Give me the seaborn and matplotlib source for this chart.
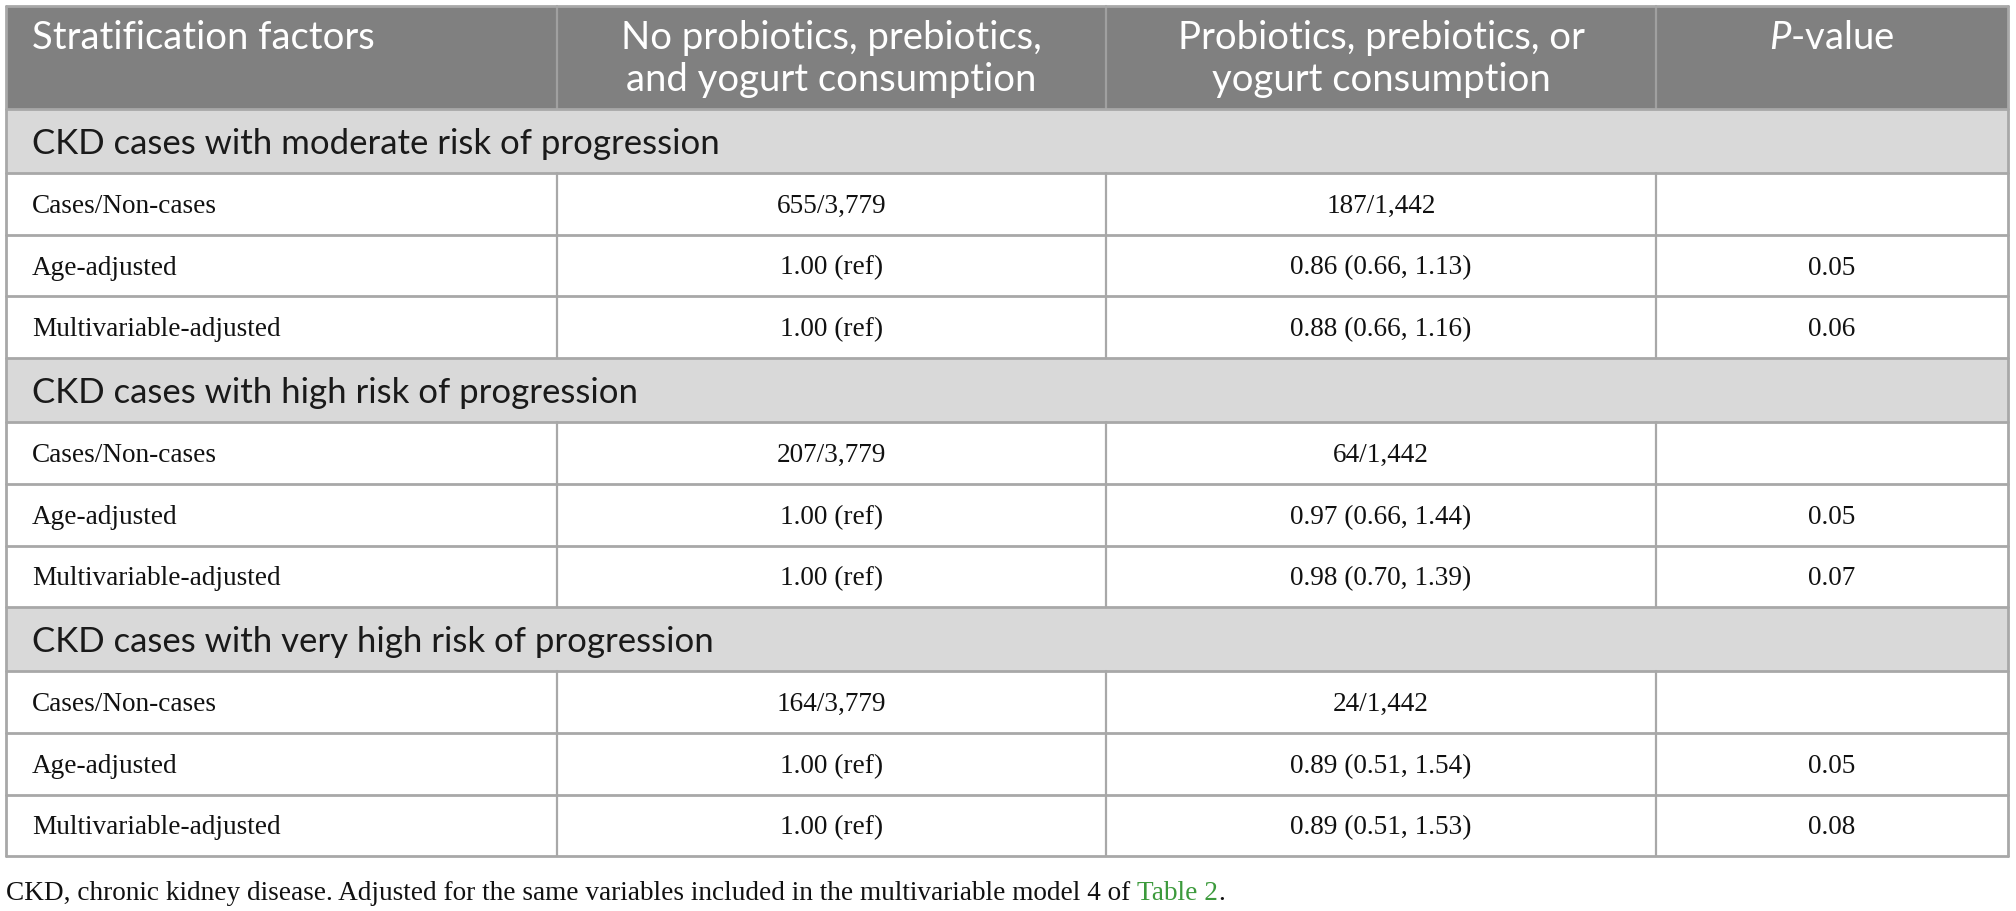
import matplotlib
matplotlib.use("Agg")
import matplotlib.pyplot as plt
import seaborn as sns
from matplotlib.patches import Rectangle

# ---------------- data ----------------
col_headers = ["Stratification factors",
               "No probiotics, prebiotics,\nand yogurt consumption",
               "Probiotics, prebiotics, or\nyogurt consumption",
               "P-value"]
sections = ["CKD cases with moderate risk of progression",
            "CKD cases with high risk of progression",
            "CKD cases with very high risk of progression"]
row_labels = ["Cases/Non-cases", "Age-adjusted", "Multivariable-adjusted"]
no_consumption = [["655/3,779", "1.00 (ref)", "1.00 (ref)"],
                  ["207/3,779", "1.00 (ref)", "1.00 (ref)"],
                  ["164/3,779", "1.00 (ref)", "1.00 (ref)"]]
consumption = [["187/1,442", "0.86 (0.66, 1.13)", "0.88 (0.66, 1.16)"],
               ["64/1,442", "0.97 (0.66, 1.44)", "0.98 (0.70, 1.39)"],
               ["24/1,442", "0.89 (0.51, 1.54)", "0.89 (0.51, 1.53)"]]
p_values = [["", "0.05", "0.06"],
            ["", "0.05", "0.07"],
            ["", "0.05", "0.08"]]
footnote = "CKD, chronic kidney disease. Adjusted for the same variables included in the multivariable model 4 of "
footnote_link = "Table 2"

# ---------------- style ----------------
sns.set_theme(style="white")
plt.rcParams['font.family'] = ['Lato', 'DejaVu Sans']
plt.rcParams['mathtext.fontset'] = 'custom'
plt.rcParams['mathtext.it'] = 'Lato:italic'
plt.rcParams['mathtext.rm'] = 'Lato'

W, H = 2016, 911
fig = plt.figure(figsize=(W / 100, H / 100), dpi=100)
ax = fig.add_axes([0, 0, 1, 1])
ax.set_xlim(0, W)
ax.set_ylim(H, 0)
ax.axis("off")

col_edges = [6, 557, 1106, 1656, 2008]
top = 6
header_h = 103
section_h = 64
row_h = 61.7
header_bg = "#808080"
section_bg = "#d9d9d9"
line_c = "#a8a8a8"
serif = ['Liberation Serif', 'DejaVu Serif']
head_size = 27.5
sec_size = 25
serif_size = 19.6
pad = 26
dy = 2.5

# header
ax.add_patch(Rectangle((col_edges[0], top), col_edges[-1] - col_edges[0], header_h,
                       facecolor=header_bg, edgecolor="none", zorder=1))
for i, htxt in enumerate(col_headers):
    x0, x1 = col_edges[i], col_edges[i + 1]
    if i == 0:
        ax.text(x0 + pad, top + 32, htxt, color="white", fontsize=head_size,
                ha="left", va="center", zorder=3)
    elif htxt.startswith("P-"):
        ax.text((x0 + x1) / 2, top + 32, r"$\mathit{P}$" + htxt[1:], color="white",
                fontsize=head_size, ha="center", va="center", zorder=3)
    else:
        lines = htxt.split("\n")
        for k, ln in enumerate(lines):
            ax.text((x0 + x1) / 2, top + 32 + k * 42, ln, color="white",
                    fontsize=head_size, ha="center", va="center", zorder=3)
for xe in col_edges[1:-1]:
    ax.plot([xe, xe], [top, top + header_h], color="#a0a0a0", lw=1.6, zorder=2)

y = top + header_h
hlines = [top, y]
vsegs = []
for s, sec in enumerate(sections):
    ax.add_patch(Rectangle((col_edges[0], y), col_edges[-1] - col_edges[0], section_h,
                           facecolor=section_bg, edgecolor="none", zorder=1))
    ax.text(col_edges[0] + pad, y + section_h / 2 + dy, sec, color="#1a1a1a",
            fontsize=sec_size, ha="left", va="center", zorder=3)
    y += section_h
    hlines.append(y)
    for r, lab in enumerate(row_labels):
        yc = y + row_h / 2 + dy
        vals = [lab, no_consumption[s][r], consumption[s][r], p_values[s][r]]
        for c, v in enumerate(vals):
            x0, x1 = col_edges[c], col_edges[c + 1]
            if c == 0:
                ax.text(x0 + pad, yc, v, fontsize=serif_size, family=serif,
                        color="#111111", ha="left", va="center", zorder=3)
            else:
                ax.text((x0 + x1) / 2, yc, v, fontsize=serif_size, family=serif,
                        color="#111111", ha="center", va="center", zorder=3)
        vsegs.append((y, y + row_h))
        y += row_h
        hlines.append(y)

bottom = y
for yl in hlines:
    ax.plot([col_edges[0], col_edges[-1]], [yl, yl], color=line_c, lw=2.0, zorder=2)
for (ya, yb) in vsegs:
    for xe in col_edges[1:-1]:
        ax.plot([xe, xe], [ya, yb], color=line_c, lw=1.6, zorder=2)
ax.plot([col_edges[0], col_edges[0]], [top, bottom], color=line_c, lw=2.0, zorder=2)
ax.plot([col_edges[-1], col_edges[-1]], [top, bottom], color=line_c, lw=2.0, zorder=2)

# footnote
fy = 894
t1 = ax.text(col_edges[0], fy, footnote, fontsize=serif_size, family=serif,
             color="#111111", ha="left", va="center")
fig.canvas.draw()
r = fig.canvas.get_renderer()
bb = t1.get_window_extent(r)
x_next = ax.transData.inverted().transform((bb.x1, 0))[0]
t2 = ax.text(x_next, fy, footnote_link, fontsize=serif_size, family=serif,
             color="#3c9a3c", ha="left", va="center")
bb2 = t2.get_window_extent(r)
x_next2 = ax.transData.inverted().transform((bb2.x1, 0))[0]
ax.text(x_next2, fy, ".", fontsize=serif_size, family=serif,
        color="#111111", ha="left", va="center")

fig.savefig("out.png", dpi=100, facecolor="white")
